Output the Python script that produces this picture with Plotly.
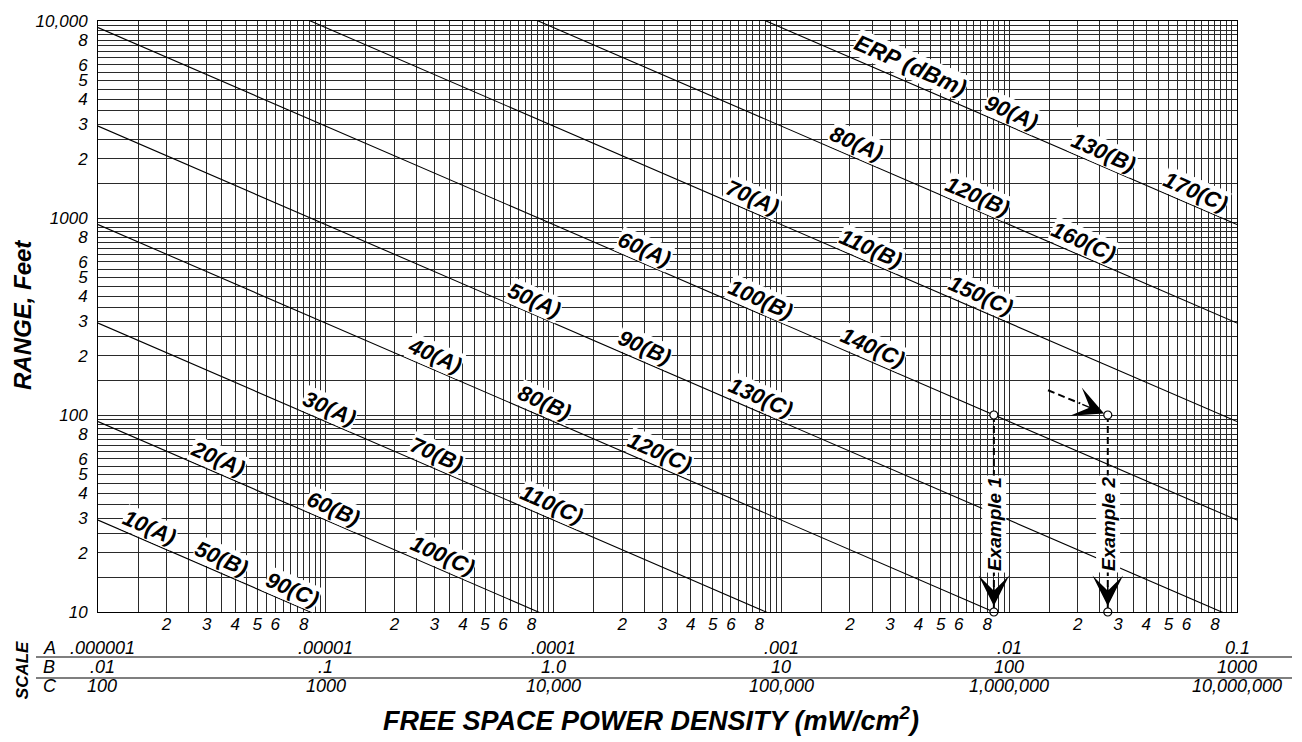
import math
import numpy as np
import plotly.graph_objects as go

# Constant-ERP lines (dBm, read on scale A); scale B adds 40 dB, scale C adds 80 dB
erp_scale_a_dbm = [10, 20, 30, 40, 50, 60, 70, 80, 90]
scale_b_shift_db = 40
scale_c_shift_db = 80

# Decade values printed under the x axis for each scale (mW/cm^2)
decade_exponents = [-6, -5, -4, -3, -2, -1]
scale_a_text = [".000001", ".00001", ".0001", ".001", ".01", "0.1"]
scale_b_text = [".01", ".1", "1.0", "10", "100", "1000"]
scale_c_text = ["100", "1000", "10,000", "100,000", "1,000,000", "10,000,000"]

# Range axis (ft) decade labels and labelled intermediate mantissas
range_decades = [10, 100, 1000, 10000]
range_decade_text = ["10", "100", "1000", "10,000"]
labelled_mantissas = [2, 3, 4, 5, 6, 8]

# Worked examples: ERP on scale A (dBm) at a range of 100 ft
example_names = ["Example 1", "Example 2"]
example_erp_dbm = [60, 65]
example_range_ft = [100, 100]

# Lead-in guide for example 2 (power density on scale A, range in ft)
guide_density = [0.0148, 0.0205]
guide_range_ft = [133.5, 114.5]

# ---------------------------------------------------------------------------
# Label placement along each line: log10 of scale-A density at the label centre
label_at_a = [-5.772, -5.473, -4.982, -4.521, -4.082, -3.599, -3.125, -2.670, -1.988]
label_at_b = [-5.457, -4.968, -4.512, -4.040, -3.599, -3.090, -2.607, -2.137, -1.584]
label_at_c = [-5.146, -4.486, -4.007, -3.533, -3.090, -2.598, -2.124, -1.676, -1.184]
erp_title_at = -2.435

W, H = 1302, 742
ML, MR, MT, MB = 98, 65, 13, 130
PW, PH = W - ML - MR, H - MT - MB
X_RANGE = [-6, -1]
Y_RANGE = [1, 4]

FONT = "Liberation Sans, Arial, Helvetica, sans-serif"


def px_x(px):
    return (px - ML) / PW


def px_y(py):
    return (H - MB - py) / PH


def range_ft(erp_dbm, density):
    """Range (ft) at which a source of the given ERP gives this power density."""
    p_mw = 10 ** (erp_dbm / 10)
    return np.sqrt(p_mw / (4 * np.pi * density)) / 30.48


def density_at(erp_dbm, r_ft):
    """Free-space power density (mW/cm^2) at r_ft feet."""
    return 10 ** (erp_dbm / 10) / (4 * np.pi * (r_ft * 30.48) ** 2)


# slope of the lines on screen (R ~ S^-1/2)
px_per_dec_x = PW / (X_RANGE[1] - X_RANGE[0])
px_per_dec_y = PH / (Y_RANGE[1] - Y_RANGE[0])
line_angle = math.degrees(math.atan(0.5 * px_per_dec_y / px_per_dec_x))

fig = go.Figure()

# ERP lines
dens = np.logspace(X_RANGE[0], X_RANGE[1], 60)
for p in erp_scale_a_dbm:
    fig.add_trace(go.Scatter(
        x=dens, y=range_ft(p, dens), mode="lines",
        line=dict(color="black", width=1.1), hoverinfo="skip"))

# Example guides
dash_style = dict(color="black", width=2, dash="7px,4px")
ex_density = [density_at(p, r) for p, r in zip(example_erp_dbm, example_range_ft)]
for s, r in zip(ex_density, example_range_ft):
    fig.add_trace(go.Scatter(
        x=[s, s], y=[r, 10 ** Y_RANGE[0]], mode="lines",
        line=dash_style, hoverinfo="skip"))
fig.add_trace(go.Scatter(
    x=guide_density, y=guide_range_ft, mode="lines",
    line=dash_style, hoverinfo="skip"))
fig.add_trace(go.Scatter(
    x=ex_density + ex_density,
    y=example_range_ft + [10 ** Y_RANGE[0]] * len(ex_density),
    mode="markers", cliponaxis=False,
    marker=dict(symbol="circle", size=8, color="white",
                line=dict(color="black", width=1.2)),
    hoverinfo="skip"))

annotations = []
label_font = dict(family=FONT, size=22, color="black", weight="bold", style="italic")

# Line labels, sitting just above their line
for i, p in enumerate(erp_scale_a_dbm):
    entries = [
        (f"{p}(A)", label_at_a[i]),
        (f"{p + scale_b_shift_db}(B)", label_at_b[i]),
        (f"{p + scale_c_shift_db}(C)", label_at_c[i]),
    ]
    for text, lx in entries:
        ly = math.log10(range_ft(p, 10 ** lx))
        annotations.append(dict(
            x=lx, y=ly, xref="x", yref="y", text=text, showarrow=False,
            textangle=line_angle, font=label_font, bgcolor="white",
            borderpad=0, xanchor="center", yanchor="middle", yshift=15))

top_line = erp_scale_a_dbm[-1]
annotations.append(dict(
    x=erp_title_at, y=math.log10(range_ft(top_line, 10 ** erp_title_at)),
    xref="x", yref="y", text="ERP (dBm)", showarrow=False,
    textangle=line_angle, font=dict(label_font, size=23), bgcolor="white",
    borderpad=0, xanchor="center", yanchor="middle", yshift=18))

# Example labels and arrowheads
for name, s, r in zip(example_names, ex_density, example_range_ft):
    annotations.append(dict(
        x=math.log10(s), y=px_y(523), xref="x", yref="paper", text=name,
        showarrow=False, textangle=-90, bgcolor="white", borderpad=1,
        xanchor="center", yanchor="middle",
        font=dict(family=FONT, size=19, color="black", weight="bold", style="italic")))
    annotations.append(dict(
        x=math.log10(s), y=Y_RANGE[0], xref="x", yref="y", text="",
        showarrow=True, arrowhead=3, arrowsize=3.4, arrowwidth=1.5,
        arrowcolor="black", ax=0, ay=-27, standoff=6))

# arrow into example 2
annotations.append(dict(
    x=math.log10(ex_density[1]), y=math.log10(example_range_ft[1]),
    xref="x", yref="y", text="", showarrow=True, arrowhead=3, arrowsize=3.4,
    arrowwidth=1.5, arrowcolor="black", ax=-27, ay=-11.3, standoff=4))

# Scale table under the x axis
table_font = dict(family=FONT, size=18, color="black", style="italic")
row_y = [648, 667.5, 687]
for row, (letter, texts) in enumerate(zip(["A", "B", "C"],
                                          [scale_a_text, scale_b_text, scale_c_text])):
    annotations.append(dict(
        x=px_x(41), y=px_y(row_y[row]), xref="paper", yref="paper", text=letter,
        showarrow=False, xanchor="left", yanchor="middle", font=table_font))
    for k, (e, t) in enumerate(zip(decade_exponents, texts)):
        annotations.append(dict(
            x=e, y=px_y(row_y[row]), xref="x", yref="paper", text=t,
            showarrow=False, xanchor="center", yanchor="middle", font=table_font,
            xshift=4 if k == 0 else 0))

annotations.append(dict(
    x=px_x(22), y=px_y(671), xref="paper", yref="paper", text="SCALE",
    showarrow=False, textangle=-90, xanchor="center", yanchor="middle",
    font=dict(family=FONT, size=17, color="black", weight="bold", style="italic")))

# Axis titles
annotations.append(dict(
    x=px_x(651), y=px_y(720), xref="paper", yref="paper",
    text="FREE SPACE POWER DENSITY (mW/cm<sup>2</sup>)", showarrow=False,
    xanchor="center", yanchor="middle",
    font=dict(family=FONT, size=27, color="black", weight="bold", style="italic")))
annotations.append(dict(
    x=px_x(22), y=px_y(311), xref="paper", yref="paper", text="RANGE, Feet",
    showarrow=False, textangle=-90, xanchor="center", yanchor="middle",
    font=dict(family=FONT, size=24, color="black", weight="bold", style="italic")))

shapes = []
for py in [657.7, 679]:
    shapes.append(dict(type="line", xref="paper", yref="paper",
                       x0=px_x(36), x1=px_x(1292), y0=px_y(py), y1=px_y(py),
                       line=dict(color="#555", width=1.5)))

# Grid at every half unit of each decade (1, 1.5, ... 9.5)
mantissas = [1 + 0.5 * k for k in range(18)]


def grid_ticks(exponents, decade_text=None):
    vals, texts = [], []
    for j, e in enumerate(exponents):
        for m in mantissas:
            vals.append(m * 10.0 ** e)
            if m == 1:
                texts.append(decade_text[j] if decade_text else "")
            elif m in labelled_mantissas:
                texts.append(str(int(m)))
            else:
                texts.append("")
    return vals, texts


xv, xt = grid_ticks(range(X_RANGE[0], X_RANGE[1]))
xv.append(10.0 ** X_RANGE[1])
xt.append("")
yv, yt = grid_ticks(range(Y_RANGE[0], Y_RANGE[1]), range_decade_text[:-1])
yv.append(10.0 ** Y_RANGE[1])
yt.append(range_decade_text[-1])

tick_font = dict(family=FONT, size=17, color="black", style="italic")
axis_common = dict(
    type="log", tickmode="array", showgrid=True, gridcolor="#2a2a2a", gridwidth=1,
    ticks="", showline=True, mirror=True, linecolor="black", linewidth=1,
    zeroline=False, tickfont=tick_font)

fig.update_layout(
    width=W, height=H, margin=dict(l=ML, r=MR, t=MT, b=MB),
    paper_bgcolor="white", plot_bgcolor="white", showlegend=False,
    xaxis=dict(axis_common, range=X_RANGE, tickvals=xv, ticktext=xt,
               ticklabelstandoff=-3),
    yaxis=dict(axis_common, range=Y_RANGE, tickvals=yv, ticktext=yt,
               ticklabelstandoff=6),
    annotations=annotations, shapes=shapes)

fig.write_html("out.html")
